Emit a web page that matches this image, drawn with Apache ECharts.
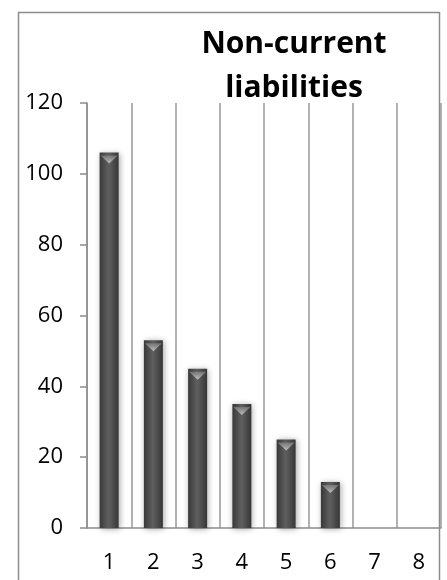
<!DOCTYPE html>
<html>
<head>
<meta charset="utf-8">
<script src="https://cdn.jsdelivr.net/npm/echarts@6/dist/echarts.min.js"></script>
<style>
  html, body { margin: 0; padding: 0; background: #fff; }
  #chart { width: 447px; height: 580px; }
</style>
</head>
<body>
<div id="chart"></div>
<script>
// Non-current liabilities by period
const categories = ['1', '2', '3', '4', '5', '6', '7', '8'];
const liabilities = [106, 53, 45, 35, 25, 13, null, null];
const yTicks = { min: 0, max: 120, step: 20 };
const titleText = 'Non-current\nliabilities';

const chart = echarts.init(document.getElementById('chart'), null, { renderer: 'canvas' });

const barFill = new echarts.graphic.LinearGradient(0, 0, 1, 0, [
  { offset: 0, color: '#383838' },
  { offset: 0.45, color: '#5e5e5e' },
  { offset: 0.55, color: '#5a5a5a' },
  { offset: 1, color: '#363636' }
]);

const bevelFill = new echarts.graphic.LinearGradient(0, 0, 0, 1, [
  { offset: 0, color: 'rgba(200,200,200,0.95)' },
  { offset: 1, color: 'rgba(140,140,140,0.6)' }
]);

chart.setOption({
  animation: false,
  backgroundColor: '#ffffff',
  graphic: [{
    type: 'rect',
    shape: { x: 18.5, y: 12.5, width: 421, height: 620 },
    style: { fill: 'none', stroke: '#8c8c8c', lineWidth: 1.5 },
    silent: true
  }],
  title: {
    text: titleText,
    left: 289,
    top: 17,
    textAlign: 'center',
    textStyle: {
      fontFamily: 'Open Sans',
      fontWeight: 'bold',
      fontSize: 30,
      lineHeight: 44,
      color: '#000'
    }
  },
  grid: { left: 87, right: 6, top: 103, bottom: 52, containLabel: false },
  xAxis: {
    type: 'category',
    data: categories,
    boundaryGap: true,
    axisLine: { lineStyle: { color: '#8c8c8c', width: 1.5 } },
    axisTick: { show: false },
    axisLabel: { fontFamily: 'Open Sans', fontSize: 22, color: '#000', margin: 24 },
    splitLine: { show: true, lineStyle: { color: '#999', width: 1.5 } }
  },
  yAxis: {
    type: 'value',
    min: yTicks.min,
    max: yTicks.max,
    interval: yTicks.step,
    axisLine: { show: true, lineStyle: { color: '#8c8c8c', width: 1.5 } },
    axisTick: { show: true, inside: false, length: 7, lineStyle: { color: '#8c8c8c', width: 1.5 } },
    axisLabel: { fontFamily: 'Open Sans', fontSize: 22, color: '#000', margin: 24 },
    splitLine: { show: false }
  },
  series: [
    {
      type: 'bar',
      data: liabilities,
      barWidth: 19,
      itemStyle: {
        color: barFill,
        shadowBlur: 6,
        shadowColor: 'rgba(0,0,0,0.35)',
        shadowOffsetX: 1,
        shadowOffsetY: 1
      },
      z: 2
    },
    {
      // light bevel at the top of each bar
      type: 'pictorialBar',
      data: liabilities,
      symbol: 'triangle',
      symbolRotate: 180,
      symbolSize: [17, 8],
      symbolPosition: 'end',
      symbolOffset: [0, 3],
      itemStyle: { color: bevelFill },
      z: 3
    }
  ]
});
</script>
</body>
</html>
